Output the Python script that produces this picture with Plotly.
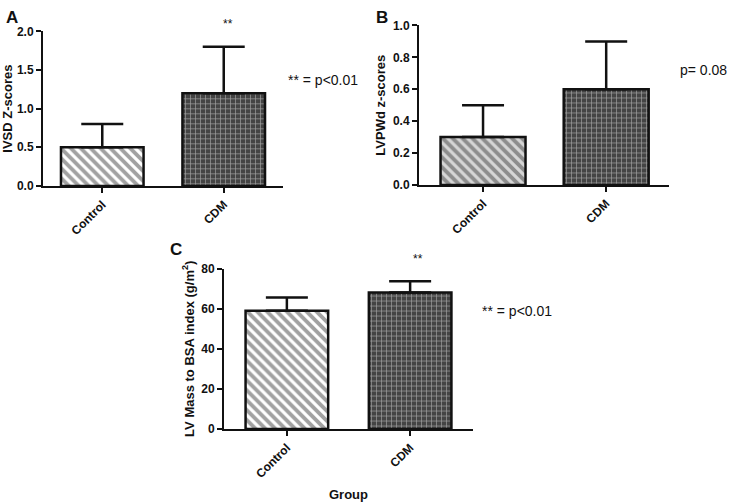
import plotly.graph_objects as go

groups = ["Control", "CDM"]
ivsd_mean = [0.5, 1.2]
ivsd_sd = [0.3, 0.6]
lvpwd_mean = [0.3, 0.6]
lvpwd_sd = [0.2, 0.3]
lvmass_mean = [59, 68]
lvmass_sd = [6.5, 5.7]

W, H = 740, 504
def px(x):
    return x / W
def py(y):
    return 1 - y / H

FONT = "Liberation Sans, Arial, sans-serif"

fig = go.Figure()

panels = [
    (ivsd_mean, ivsd_sd, "x", "y", "white", 0.68),
    (lvpwd_mean, lvpwd_sd, "x2", "y2", "#d6d6d6", 0.69),
    (lvmass_mean, lvmass_sd, "x3", "y3", "white", 0.67),
]

for mean, sd, xa, ya, cbg, bw in panels:
    fig.add_trace(go.Bar(
        x=groups, y=mean, xaxis=xa, yaxis=ya, width=bw,
        marker=dict(
            color=[cbg, "#444444"],
            line=dict(color="#111111", width=2.5),
            pattern=dict(
                shape=["\\", "+"],
                fgcolor=["#000000", "#c8c8c8"],
                bgcolor=[cbg, "#444444"],
                size=[7, 5],
                solidity=[0.55, 0.25],
                fillmode="overlay",
            ),
        ),
        error_y=dict(type="data", symmetric=False, array=sd,
                     arrayminus=[0, 0], color="#111111", thickness=2.5, width=21),
        showlegend=False,
        hoverinfo="skip",
    ))

axis_common = dict(showline=True, linecolor="#111111", linewidth=2,
                   ticks="outside", ticklen=5, tickwidth=2, tickcolor="#111111",
                   showgrid=False, zeroline=False,
                   tickfont=dict(family=FONT, size=12, color="#111111", weight="bold"))

title_font = dict(family=FONT, size=13, color="#111111", weight="bold")

layout = dict(
    width=W, height=H, margin=dict(l=0, r=0, t=0, b=0),
    plot_bgcolor="white", paper_bgcolor="white",
)

layout["xaxis"] = dict(axis_common, domain=[px(43), px(283)], range=[-0.488, 1.488],
                       anchor="y", tickangle=-45)
layout["yaxis"] = dict(axis_common, domain=[py(184), py(25)], range=[0, 2.0],
                       tickvals=[0, 0.5, 1.0, 1.5, 2.0], ticktext=["0.0", "0.5", "1.0", "1.5", "2.0"],
                       anchor="x",
                       title=dict(text="IVSD Z-scores", standoff=4, font=title_font))
layout["xaxis2"] = dict(axis_common, domain=[px(419), px(669)], range=[-0.52, 1.51],
                        anchor="y2", tickangle=-45)
layout["yaxis2"] = dict(axis_common, domain=[py(183), py(19)], range=[0, 1.0],
                        tickvals=[0, 0.2, 0.4, 0.6, 0.8, 1.0],
                        ticktext=["0.0", "0.2", "0.4", "0.6", "0.8", "1.0"],
                        anchor="x2",
                        title=dict(text="LVPWd z-scores", standoff=4, font=title_font))
layout["xaxis3"] = dict(axis_common, domain=[px(224), px(473)], range=[-0.51, 1.51],
                        anchor="y3", tickangle=-45,
                        title=dict(text="Group", standoff=10, font=title_font))
layout["yaxis3"] = dict(axis_common, domain=[py(434), py(269)], range=[0, 80],
                        tickvals=[0, 20, 40, 60, 80], anchor="x3",
                        title=dict(text="LV Mass to BSA index (g/m<sup>2</sup>)", standoff=4,
                                   font=title_font))

fig.update_layout(**layout)

def ann(text, x, y, size, bold=False, xanchor="center"):
    fig.add_annotation(text=text, x=px(x), y=py(y), xref="paper", yref="paper",
                       showarrow=False, xanchor=xanchor, yanchor="middle",
                       font=dict(family=FONT, size=size, color="#111111",
                                 weight="bold" if bold else "normal"))

ann("A", 4, 11, 17, bold=True, xanchor="left")
ann("B", 374, 11, 17, bold=True, xanchor="left")
ann("C", 168, 249, 17, bold=True, xanchor="left")
ann("**", 228, 18, 12)
ann("**", 418, 259, 12)
ann("** = p<0.01", 286, 75, 14, xanchor="left")
ann("p= 0.08", 678, 65, 14, xanchor="left")
ann("** = p<0.01", 480, 313, 14, xanchor="left")

fig.write_html("out.html", config={"displayModeBar": False},
               post_script="document.body.style.margin='0';")
